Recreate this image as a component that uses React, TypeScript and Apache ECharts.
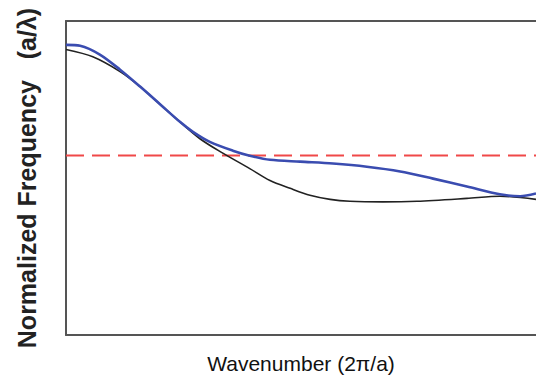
import React, { useEffect, useRef } from "react";
import * as echarts from "echarts";

// Wavenumber (fraction of the plotted range) and normalized frequency values
const waveBlack = [0, 0.057, 0.115, 0.157, 0.2, 0.243, 0.285, 0.328, 0.391, 0.434, 0.477, 0.519, 0.562, 0.604, 0.674, 0.747, 0.853, 0.923, 1.0];
const freqBlack = [0.909, 0.886, 0.839, 0.792, 0.735, 0.678, 0.625, 0.584, 0.53, 0.492, 0.467, 0.445, 0.432, 0.426, 0.424, 0.426, 0.435, 0.442, 0.432];

const waveBlue = [0, 0.03, 0.072, 0.115, 0.157, 0.2, 0.243, 0.27, 0.306, 0.355, 0.391, 0.434, 0.498, 0.568, 0.64, 0.711, 0.781, 0.853, 0.923, 0.966, 1.0];
const freqBlue = [0.924, 0.921, 0.893, 0.845, 0.792, 0.735, 0.678, 0.647, 0.615, 0.587, 0.571, 0.558, 0.552, 0.546, 0.536, 0.521, 0.498, 0.473, 0.448, 0.442, 0.451];

const redLevel = 0.572;
const xRange = [0, 1];
const yRange = [0, 1];

const xTitle = "Wavenumber (2π/a)";
const yTitle = "Normalized Frequency\u00A0\u00A0\u00A0(a/λ)";

export default function App() {
  const ref = useRef<HTMLDivElement>(null);
  useEffect(() => {
    if (!ref.current) return;
    const chart = echarts.init(ref.current, undefined, { renderer: "svg" });
    const axisLine = { show: true, lineStyle: { color: "#555", width: 2 } };
    chart.setOption({
      animation: false,
      backgroundColor: "#fff",
      grid: { left: 66, right: 0, top: 21, bottom: 41 },
      xAxis: [
        {
          type: "value",
          min: xRange[0],
          max: xRange[1],
          position: "bottom",
          axisLine,
          axisTick: { show: false },
          axisLabel: { show: false },
          splitLine: { show: false },
          name: xTitle,
          nameLocation: "middle",
          nameGap: 18,
          nameTextStyle: { fontFamily: "Liberation Sans, Arial", fontSize: 21, color: "#111" },
        },
        {
          type: "value",
          min: xRange[0],
          max: xRange[1],
          position: "top",
          axisLine,
          axisTick: { show: false },
          axisLabel: { show: false },
          splitLine: { show: false },
        },
      ],
      yAxis: {
        type: "value",
        min: yRange[0],
        max: yRange[1],
        axisLine,
        axisTick: { show: false },
        axisLabel: { show: false },
        splitLine: { show: false },
        name: yTitle,
        nameLocation: "middle",
        nameRotate: 90,
        nameGap: 27,
        nameTextStyle: { fontFamily: "Liberation Sans, Arial", fontSize: 25, fontWeight: "bold", color: "#222" },
      },
      series: [
        {
          type: "line",
          xAxisIndex: 0,
          data: [[xRange[0], redLevel], [xRange[1], redLevel]],
          showSymbol: false,
          lineStyle: { color: "#f04848", width: 2, type: [18, 8] },
          z: 1,
        },
        {
          type: "line",
          xAxisIndex: 0,
          data: waveBlack.map((x, i) => [x, freqBlack[i]]),
          smooth: 0.3,
          showSymbol: false,
          lineStyle: { color: "#222", width: 1.6 },
          z: 2,
        },
        {
          type: "line",
          xAxisIndex: 0,
          data: waveBlue.map((x, i) => [x, freqBlue[i]]),
          smooth: 0.3,
          showSymbol: false,
          lineStyle: { color: "#3a4cb0", width: 2.6 },
          z: 3,
        },
      ],
    });
    return () => chart.dispose();
  }, []);
  return <div ref={ref} style={{ position: "absolute", left: 0, top: 0, width: 536, height: 379 }} />;
}
